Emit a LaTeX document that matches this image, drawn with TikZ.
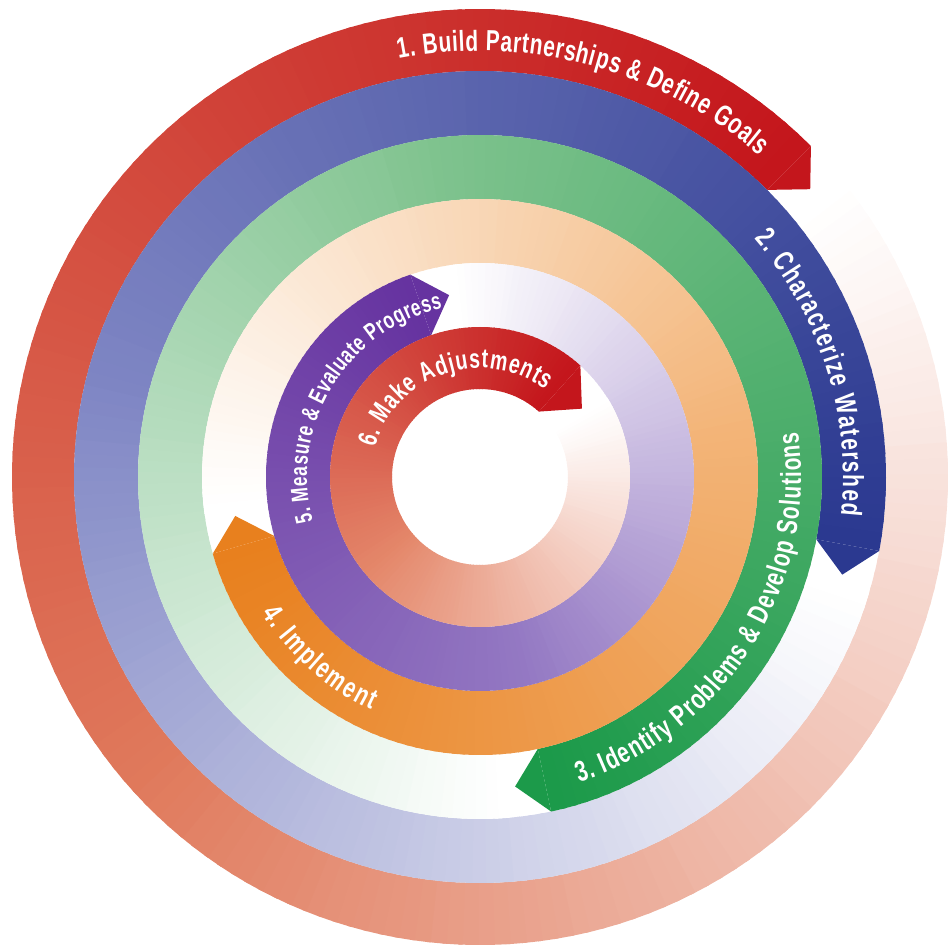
\documentclass[tikz,border=0pt]{standalone}
\usepackage{fontspec}
\newfontfamily\ringfont[FakeStretch=0.72]{Liberation Sans}
\usetikzlibrary{calc,decorations.text}
\definecolor{buildfull}{HTML}{C4161C}\definecolor{buildmid}{HTML}{E07A5C}
\definecolor{charfull}{HTML}{2B3990}\definecolor{charmid}{HTML}{7F86C4}
\definecolor{identfull}{HTML}{1C9A4A}\definecolor{identmid}{HTML}{80C38F}
\definecolor{implfull}{HTML}{E8801E}\definecolor{implmid}{HTML}{F3B579}
\definecolor{measfull}{HTML}{6633A0}\definecolor{measmid}{HTML}{9479C3}
\definecolor{adjfull}{HTML}{C4161C}\definecolor{adjmid}{HTML}{E4876A}
\begin{document}
\begin{tikzpicture}[x=1pt,y=1pt,
	ringlabel/.style 2 args={decorate,decoration={text along path,text align={fit to path},text color=white,
		text={|\ringfont\bfseries\fontsize{#1}{#1}\selectfont|#2}}}]
	\useasboundingbox (-480,-472) rectangle (467,477);
	% rings, from the tail (white) to the head (full colour), clockwise
	\foreach \rin/\rout/\hd/\mc/\fc in {406/468/45/buildmid/buildfull,342/406/-10.5/charmid/charfull,
		278/342/-78/identmid/identfull,214/278/196/implmid/implfull,150/214/109/measmid/measfull,88/150/48/adjmid/adjfull}
	{
		\pgfmathsetmacro\rmid{(\rin+\rout)/2}
		\pgfmathsetmacro\stp{(358-deg(30/\rmid))/180}
		\foreach \seg in {0,...,179}{
			\pgfmathsetmacro\angA{\hd+(180-\seg)*\stp+0.6}
			\pgfmathsetmacro\angB{\hd+(179-\seg)*\stp}
			\pgfmathtruncatemacro\pa{min(100,1.1173*\seg)}
			\pgfmathtruncatemacro\pq{min(100,200-1.1173*\seg)}
			\fill[fill={\mc!\pa!white!\pq!\fc}] (\angA:\rin) arc[start angle=\angA,end angle=\angB,radius=\rin]
				-- (\angB:\rout) arc[start angle=\angB,end angle=\angA,radius=\rout] -- cycle;
		}
		\pgfmathsetmacro\tn{\hd-90}
		\fill[\fc] (\hd:\rin) -- (\hd:\rout) -- ($(\hd:\rmid)+(\tn:30)$) -- cycle;
	}
	% labels
	\path[ringlabel={29}{1. Build Partnerships {\&} Define Goals}] (101:426) arc[start angle=101,end angle=49,radius=426];
	\path[ringlabel={29}{2. Characterize Watershed}] (41:363) arc[start angle=41,end angle=-6,radius=363];
	\path[ringlabel={29}{3. Identify Problems {\&} Develop Solutions}] (-72:321) arc[start angle=-72,end angle=8,radius=321];
	\path[ringlabel={29}{4. Implement}] (212:257) arc[start angle=212,end angle=245,radius=257];
	\path[ringlabel={24}{5. Measure {\&} Evaluate Progress}] (195:173) arc[start angle=195,end angle=102.5,radius=173];
	\path[ringlabel={27}{6. Make Adjustments}] (164.5:109) arc[start angle=164.5,end angle=53,radius=109];
\end{tikzpicture}
\end{document}
